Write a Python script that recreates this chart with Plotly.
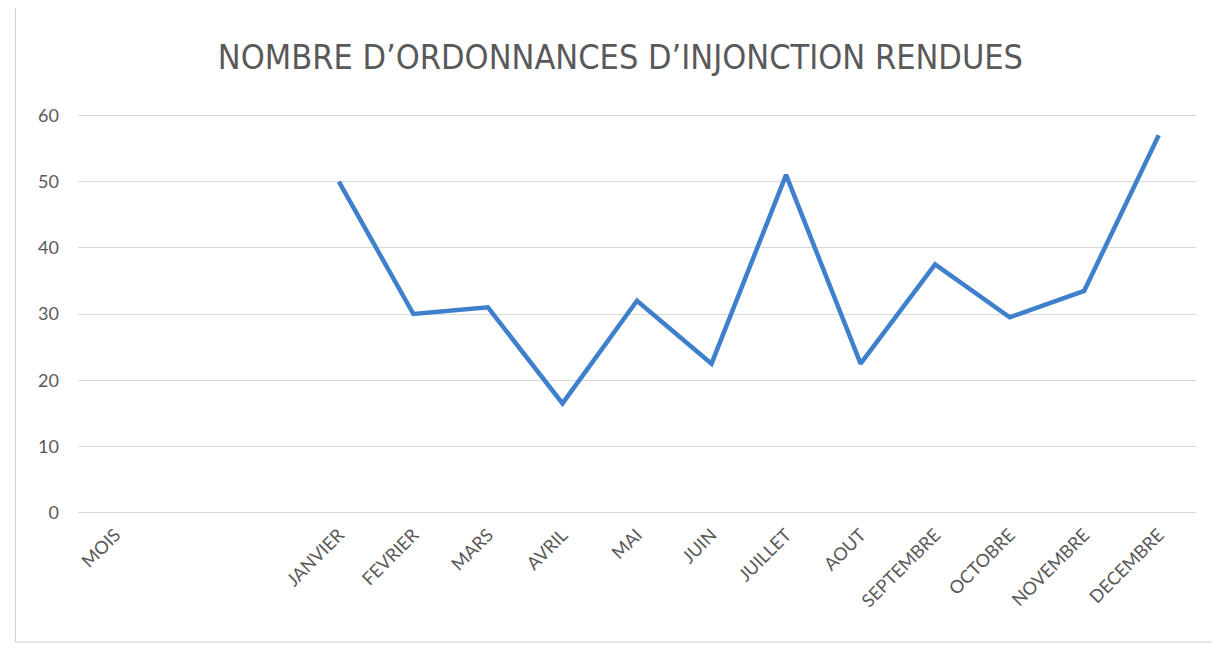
import plotly.graph_objects as go

# DATA
MOIS = ["MOIS", " ", "  ", "JANVIER", "FEVRIER", "MARS", "AVRIL", "MAI", "JUIN",
        "JUILLET", "AOUT", "SEPTEMBRE", "OCTOBRE", "NOVEMBRE", "DECEMBRE"]
ORDONNANCES = [None, None, None, 50, 30, 31, 16.5, 32, 22.5, 51, 22.5, 37.5, 29.5, 33.5, 57]
Y_TICKS = [0, 10, 20, 30, 40, 50, 60]

TITLE = "NOMBRE D’ORDONNANCES D’INJONCTION RENDUES"

# THEME
TEXT = "#595959"
GRID = "#d9d9d9"
BLUE = "#3f80cc"
FONT = "Lato, 'Open Sans', sans-serif"
TITLE_FONT = "'DejaVu Sans Condensed', Lato, sans-serif"

fig = go.Figure(
    go.Scatter(
        x=MOIS,
        y=ORDONNANCES,
        mode="lines",
        line=dict(color=BLUE, width=4.5),
        connectgaps=False,
        hoverinfo="x+y",
    )
)

fig.update_layout(
    width=1220,
    height=651,
    paper_bgcolor="white",
    plot_bgcolor="white",
    font=dict(family=FONT, color=TEXT, size=16),
    title=dict(
        text=TITLE,
        font=dict(size=34, color=TEXT, family=TITLE_FONT),
        x=0.502,
        xanchor="center",
        y=0.925,
        yanchor="middle",
    ),
    margin=dict(t=106, b=145, l=70, r=32),
    showlegend=False,
    xaxis=dict(
        type="category",
        categoryorder="array",
        categoryarray=MOIS,
        range=[-0.5, len(MOIS) - 0.5],
        tickangle=-45,
        showgrid=False,
        showline=False,
        ticks="",
        tickfont=dict(size=18, color=TEXT),
        ticklabelstandoff=6,
    ),
    yaxis=dict(
        range=[-0.2, 60.2],
        tickvals=Y_TICKS,
        showgrid=True,
        gridcolor=GRID,
        gridwidth=1,
        zeroline=True,
        zerolinecolor=GRID,
        zerolinewidth=1,
        showline=False,
        ticks="",
        tickfont=dict(size=18, color=TEXT),
        ticklabelstandoff=18,
    ),
)

# light frame around the whole chart area
fig.add_shape(
    type="rect", xref="paper", yref="paper",
    x0=-0.056, x1=1.023, y0=-0.32, y1=1.27,
    line=dict(color="#d0d0d0", width=1),
    fillcolor="rgba(0,0,0,0)",
    layer="below",
)

fig.write_html("out.html")
